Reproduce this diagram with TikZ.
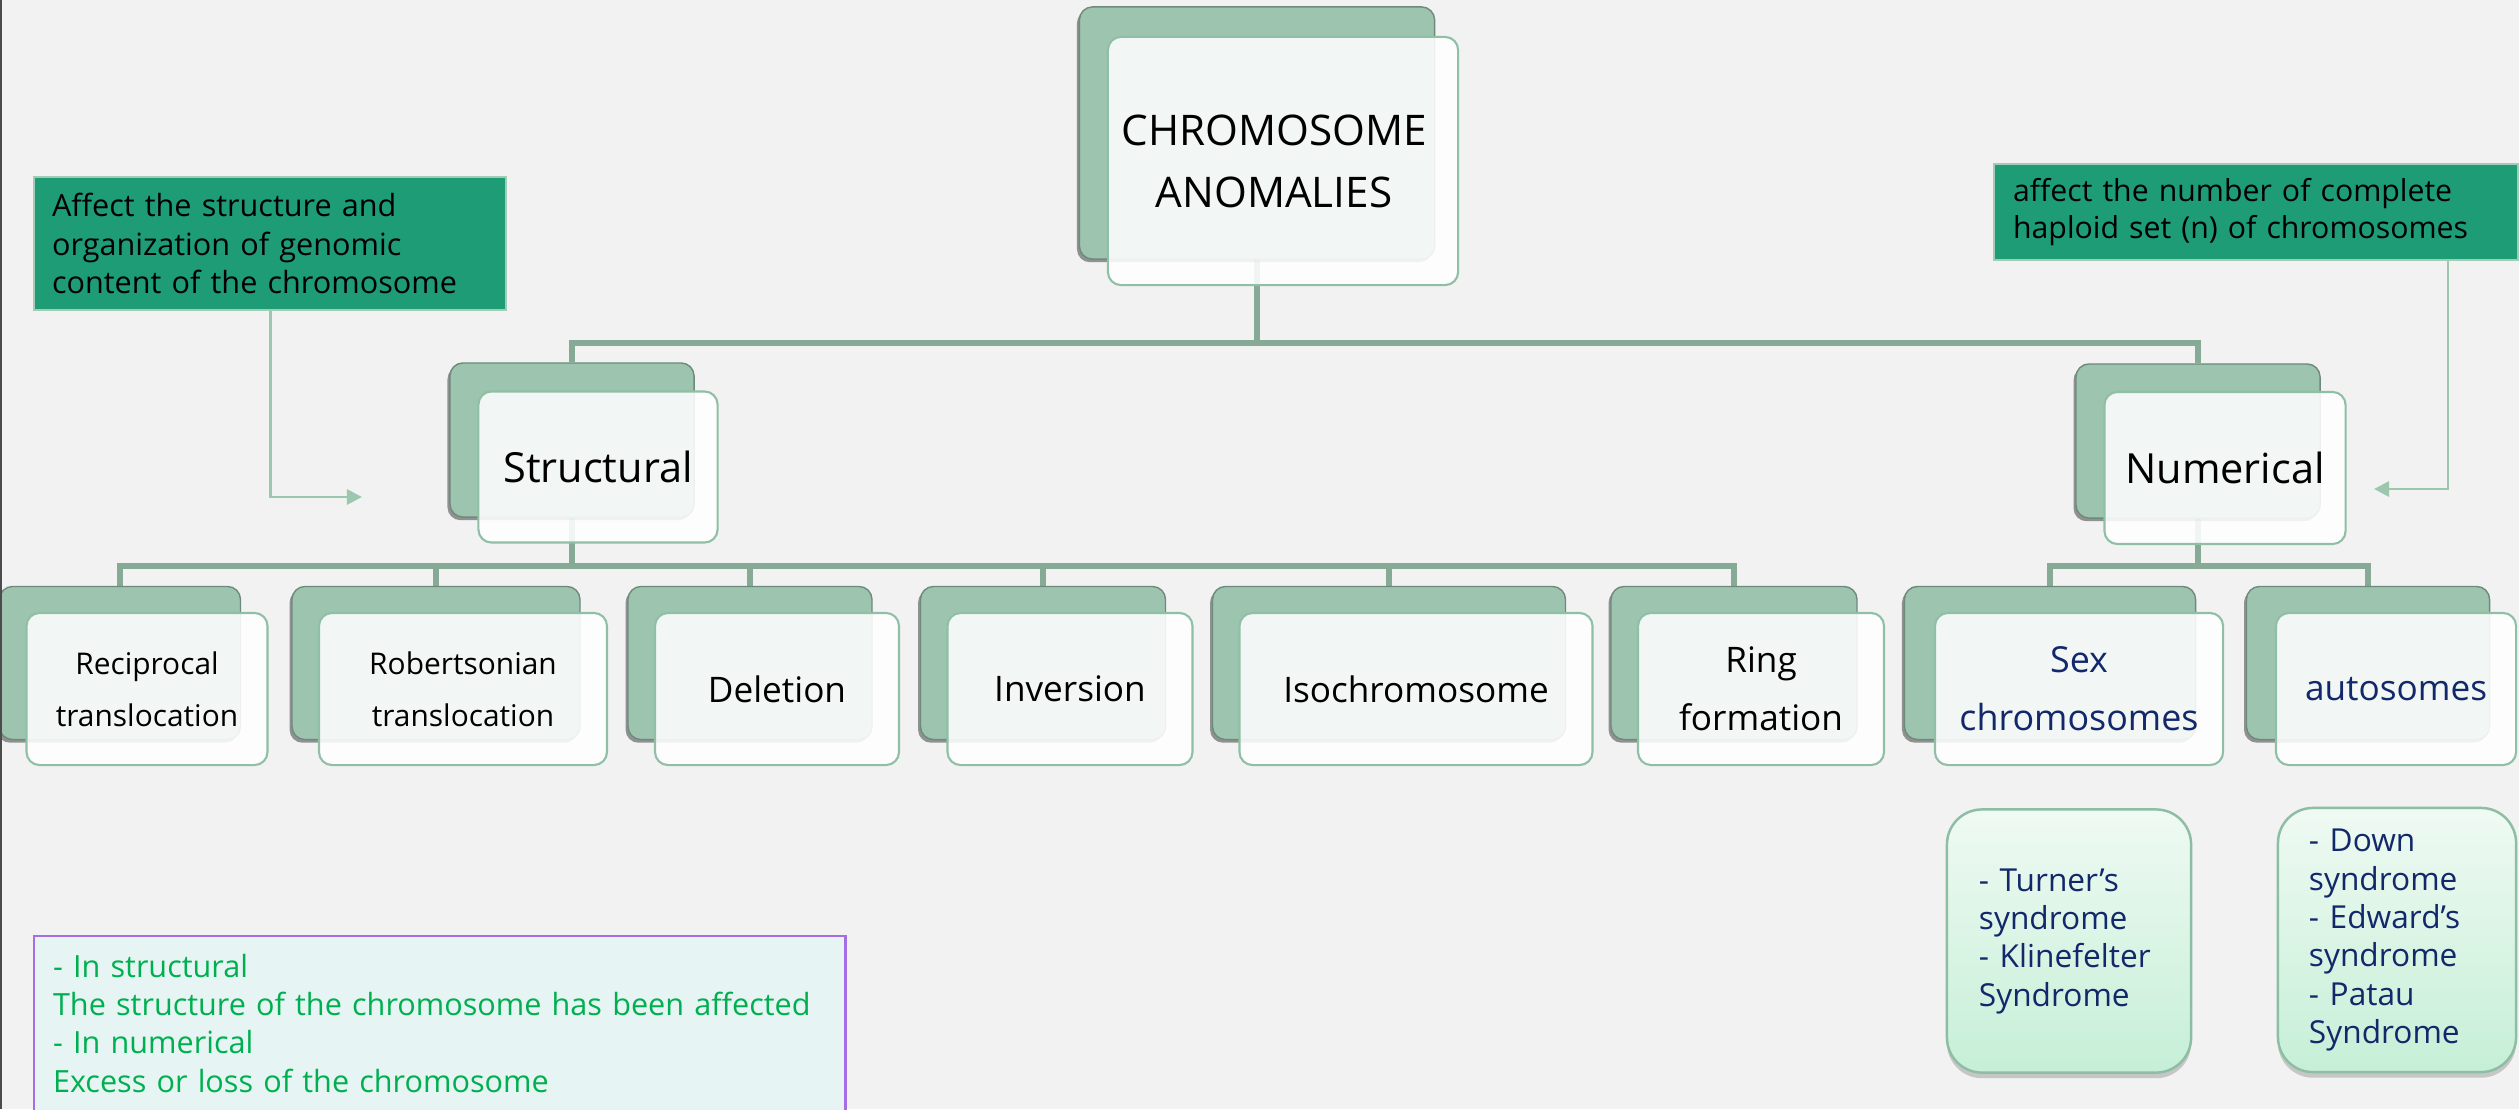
\documentclass[tikz,border=0pt]{standalone}
\usepackage{fontspec}
\setmainfont{Open Sans}
\usepackage{tikz}
\usetikzlibrary{arrows.meta,backgrounds,shadows}
\hyphenpenalty=10000
\definecolor{paper}{HTML}{F2F2F2}
\definecolor{backfill}{HTML}{9CC4AE}
\definecolor{backline}{HTML}{6E8A7C}
\definecolor{frontline}{HTML}{8FC0A6}
\definecolor{linkcol}{HTML}{87AA97}
\definecolor{notefill}{HTML}{1E9C76}
\definecolor{noteline}{HTML}{A2CCB6}
\definecolor{arrowcol}{HTML}{9CC7AF}
\definecolor{listtop}{HTML}{EFFAF3}
\definecolor{listbot}{HTML}{C6EFD7}
\definecolor{listline}{HTML}{8DBEA3}
\definecolor{navy}{HTML}{13286A}
\definecolor{keyfill}{HTML}{E6F4F3}
\definecolor{keyline}{HTML}{A66EE4}
\definecolor{keytext}{HTML}{00B050}
\tikzset{
	backbox/.style={draw=backline,line width=0.4pt,fill=backfill,rounded corners=0.13cm,minimum height=1.53cm,inner sep=0pt,
		drop shadow={shadow xshift=-0.7pt,shadow yshift=-0.9pt,opacity=0.4,fill=black}},
	frontbox/.style={draw=frontline,line width=0.6pt,fill=white,fill opacity=0.88,text opacity=1,rounded corners=0.13cm,
		minimum height=1.52cm,align=center,inner sep=0pt},
	link/.style={draw=linkcol,line width=1.5pt},
	note/.style={draw=noteline,line width=0.6pt,fill=notefill,align=left,inner xsep=0.18cm,inner ysep=0pt},
	pointer/.style={draw=arrowcol,line width=0.8pt,-{Triangle[length=4.3pt,width=4.3pt]}},
	listbox/.style={draw=listline,line width=0.7pt,top color=listtop,bottom color=listbot,rounded corners=0.35cm,
		align=left,text=navy,font=\fontsize{9}{10.9}\selectfont,
		drop shadow={shadow xshift=0pt,shadow yshift=-1.6pt,opacity=0.18,fill=black}}
}

\begin{document}
\begin{tikzpicture}[x=0.01cm,y=-0.01cm]
\useasboundingbox (0,0) rectangle (2519,1109);
\begin{scope}[on background layer]
\fill[paper] (0,0) rectangle (2519,1109);
\end{scope}
\coordinate (bar0) at (0,343);
\coordinate (bar1) at (0,566);

\node (root) [backbox,minimum width=3.55cm,minimum height=2.52cm] at (1257,133) {};
\node (rootf) [frontbox,minimum width=3.5cm,minimum height=2.48cm,font=\fontsize{12}{17.6}\selectfont] at (1283,161) {\hspace*{-0.18cm}CHROMOSOME\\\hspace*{-0.18cm}ANOMALIES};

\node (struct) [backbox,minimum width=2.44cm,minimum height=1.54cm] at (572,440) {};
\node (structf) [frontbox,minimum width=2.39cm,minimum height=1.51cm,font=\fontsize{11.8}{14}\selectfont] at (598,467) {Structural};
\node (numer) [backbox,minimum width=2.44cm,minimum height=1.54cm] at (2198,441) {};
\node (numerf) [frontbox,minimum width=2.41cm,minimum height=1.52cm,font=\fontsize{11.8}{14}\selectfont] at (2225,468) {Numerical};

\begin{scope}[on background layer]
\draw[link] (root.south) -- (root.south |- bar0) -| (struct.north);
\draw[link] (root.south |- bar0) -| (numer.north);
\end{scope}

\foreach \nm/\cx/\w/\fs/\ls/\txt in {rec/120/241/8.5/14.8/{Reciprocal\\translocation},
	rob/436/288/8.5/14.8/{Robertsonian\\translocation},
	del/750/244/10/16.5/Deletion,
	inv/1043/245/10/16.5/Inversion,
	iso/1389/353/10/16.5/Isochromosome,
	ring/1734/246/10/16.5/{Ring\\formation}}{
	\node (\nm) [backbox,minimum width=\w*0.01cm] at (\cx,663) {};
	\node (f\nm) [frontbox,minimum width=\w*0.01cm,font=\fontsize{\fs}{\ls}\selectfont] at (\cx+27,689) {\txt};
	\begin{scope}[on background layer]
	\draw[link] (struct.south) -- (struct.south |- bar1) -| (\nm.north);
	\end{scope}
}

\node (sex) [backbox,minimum width=2.91cm] at (2050,663) {};
\node (fsex) [frontbox,minimum width=2.88cm,text=navy,font=\fontsize{10.2}{16.5}\selectfont] at (2079,689) {Sex\\chromosomes};
\node (auto) [backbox,minimum width=2.43cm] at (2368,663) {};
\node (fauto) [frontbox,minimum width=2.4cm,text=navy,font=\fontsize{10}{16.5}\selectfont] at (2396,689) {autosomes};
\begin{scope}[on background layer]
\draw[link] (numer.south) -- (numer.south |- bar1) -| (sex.north);
\draw[link] (numer.south |- bar1) -| (auto.north);
\end{scope}

\node (xlist) [listbox,text width=1.8cm,inner xsep=0.32cm,minimum height=2.63cm] at (2069,941) {- Turner’s\\syndrome\\- Klinefelter\\Syndrome};
\node (alist) [listbox,text width=1.76cm,inner xsep=0.31cm,minimum height=2.64cm] at (2397,940) {- Down\\syndrome\\- Edward’s\\syndrome\\- Patau\\Syndrome};

\node (noteS) [note,text width=4.36cm,minimum height=1.33cm,anchor=north west,font=\fontsize{8.7}{11}\selectfont] at (33,176) {Affect the structure and\\organization of genomic\\content of the chromosome};
\node (noteN) [note,text width=4.86cm,inner xsep=0.19cm,minimum height=0.96cm,anchor=north west,font=\fontsize{8.6}{10.3}\selectfont] at (1993,163) {affect the number of complete\\haploid set (n) of chromosomes};

\coordinate (tipS) at (362,497);
\coordinate (bendN) at (2448,489);
\coordinate (tipN) at (2374,489);
\draw[pointer] (noteS.south) |- (tipS);
\draw[pointer] (noteN.south -| bendN) -- (bendN) -- (tipN);

\node (key) [draw=keyline,line width=0.6pt,fill=keyfill,text=keytext,align=left,text width=7.73cm,inner xsep=0.19cm,inner ysep=0.18cm,anchor=north west,font=\fontsize{8.7}{10.9}\selectfont] at (33,935) {- In structural\\The structure of the chromosome has been affected\\- In numerical\\Excess or loss of the chromosome\strut};

\draw[black!70,line width=0.6pt] (1,0) -- (1,1109);
\end{tikzpicture}
\end{document}
